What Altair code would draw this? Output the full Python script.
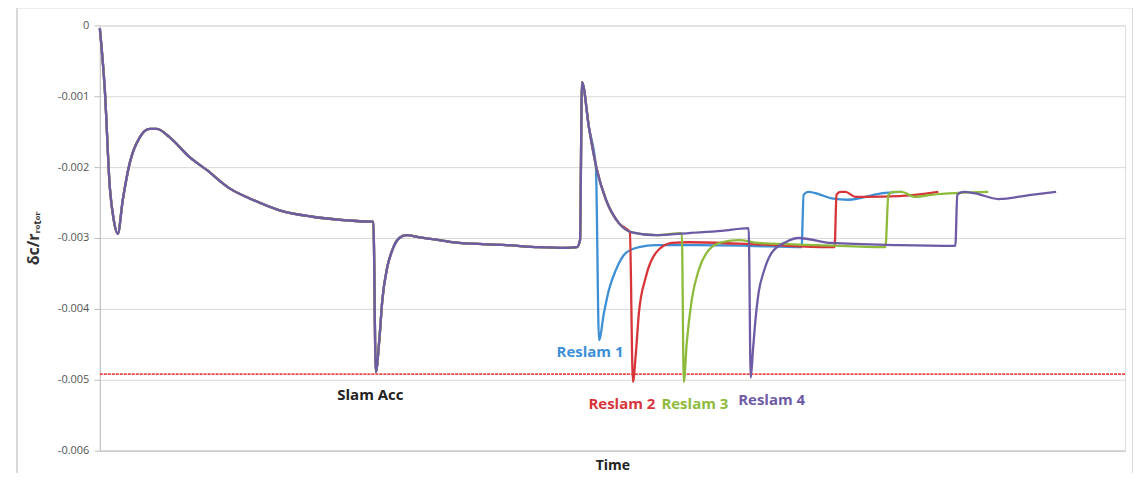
import altair as alt
import pandas as pd

# ---- data (time in arbitrary units 0..100) ----
base_t = [0.0, 0.49, 0.97, 1.36, 1.75, 2.24, 2.92, 3.89, 4.87, 5.55, 6.82, 8.76, 10.42,
          12.66, 14.90, 17.53, 20.74, 24.05, 26.58, 26.68, 26.92, 27.26, 27.56, 28.04,
          28.53, 29.21, 29.89, 31.16, 33.11, 35.05, 39.63, 42.84, 45.47, 46.54, 46.84,
          47.03, 47.71, 48.49, 49.37, 50.63, 51.90, 54.24, 57.45, 60.66, 63.29]
base_v = [-0.00004, -0.00092, -0.00228, -0.00275, -0.00294, -0.00246, -0.00194, -0.00158,
          -0.00146, -0.00146, -0.00158, -0.00186, -0.00204, -0.00230, -0.00246, -0.00261,
          -0.00270, -0.00275, -0.00277, -0.00277, -0.00489, -0.00444, -0.00387, -0.00341,
          -0.00317, -0.00300, -0.00296, -0.00299, -0.00303, -0.00307, -0.00310, -0.00313,
          -0.00314, -0.00313, -0.00303, -0.00080, -0.00144, -0.00204, -0.00246, -0.00279,
          -0.00292, -0.00296, -0.00293, -0.00290, -0.00286]

blue_t = [48.39, 48.69, 49.17, 49.66, 50.34, 51.31, 52.58, 54.24, 58.42, 63.29, 68.45,
          68.65, 69.13, 70.11, 71.37, 73.03, 76.24, 78.19]
blue_v = [-0.00201, -0.00444, -0.00406, -0.00373, -0.00345, -0.00321, -0.00313, -0.00310,
          -0.00310, -0.00311, -0.00313, -0.00239, -0.00235, -0.00238, -0.00244, -0.00246,
          -0.00237, -0.00235]

red_t = [51.70, 52.00, 52.29, 52.58, 53.26, 54.24, 55.79, 57.45, 62.32, 67.19, 71.67,
         71.86, 72.25, 72.74, 73.71, 74.68, 77.90, 81.79]
red_v = [-0.00292, -0.00503, -0.00462, -0.00406, -0.00355, -0.00321, -0.00307, -0.00306,
         -0.00308, -0.00311, -0.00313, -0.00239, -0.00235, -0.00235, -0.00242, -0.00242,
         -0.00241, -0.00235]

green_t = [56.77, 56.96, 57.25, 57.74, 58.42, 59.40, 60.66, 62.32, 64.26, 70.11, 76.63,
           76.92, 77.41, 78.19, 79.55, 81.11, 86.66]
green_v = [-0.00293, -0.00503, -0.00448, -0.00387, -0.00345, -0.00317, -0.00306, -0.00303,
           -0.00307, -0.00310, -0.00313, -0.00239, -0.00235, -0.00235, -0.00242, -0.00239,
           -0.00235]

purple_t = [63.49, 63.71, 63.97, 64.26, 64.75, 65.53, 66.89, 68.16, 71.37, 77.90, 83.45,
            83.64, 84.23, 85.39, 87.63, 90.85, 93.28]
purple_v = [-0.00497, -0.00458, -0.00413, -0.00377, -0.00348, -0.00321, -0.00306, -0.00300,
            -0.00307, -0.00310, -0.00311, -0.00239, -0.00235, -0.00237, -0.00245, -0.00239,
            -0.00235]

series_names = ["Reslam 1", "Reslam 2", "Reslam 3", "Reslam 4"]
series_colors = ["#3D8FD6", "#D8353A", "#8EBB3C", "#6E5BA6"]

limit_value = -0.00492

label_texts = ["Slam Acc", "Reslam 1", "Reslam 2", "Reslam 3", "Reslam 4"]
label_t = [26.39, 47.81, 50.92, 58.04, 65.53]
label_v = [-0.00521, -0.00461, -0.00534, -0.00534, -0.00528]
label_colors = ["#222222", "#3D8FD6", "#D8353A", "#8EBB3C", "#6E5BA6"]

y_ticks = [0, -0.001, -0.002, -0.003, -0.004, -0.005, -0.006]


def build(branch_t, own_t, own_v):
    rows = [(t, v) for t, v in zip(base_t, base_v) if t < branch_t]
    rows += list(zip(own_t, own_v))
    return pd.DataFrame(rows, columns=["t", "v"])


frames = [
    build(blue_t[0], blue_t, blue_v),
    build(red_t[0], red_t, red_v),
    build(green_t[0], green_t, green_v),
    build(purple_t[0], purple_t, purple_v),
]

xs = alt.Scale(domain=[0, 100], nice=False, zero=False)
ys = alt.Scale(domain=[-0.006, 0], nice=False, zero=False)

x_axis = alt.Axis(title="Time", labels=False, ticks=False, grid=False,
                  domainColor="#BFBFBF", titleFont="Open Sans", titleFontSize=14,
                  titleFontWeight="bold", titleColor="#222222", titlePadding=8)
y_axis = alt.Axis(title="δc/rᵣₒₜₒᵣ", values=y_ticks, grid=True, gridColor="#D9D9D9",
                  domainColor="#BFBFBF", tickColor="#BFBFBF", tickSize=6,
                  labelExpr="datum.value == 0 ? '0' : '-0.00' + toString(round(-datum.value*1000))",
                  labelFont="Open Sans", labelFontSize=11, labelColor="#555555", labelPadding=5,
                  titleFont="Open Sans", titleFontSize=16, titleFontWeight="bold",
                  titleColor="#333333", titlePadding=16)

layers = []
# light grey frame round the whole figure
frame_df = pd.DataFrame({"k": [0]})
layers.append(
    alt.Chart(frame_df).mark_rect(fill="transparent", stroke="#D9D9D9", strokeWidth=2)
    .encode(x=alt.value(-83), x2=alt.value(1035), y=alt.value(-18), y2=alt.value(520))
)
# red dotted limit line
limit_df = pd.DataFrame({"v": [limit_value]})
layers.append(
    alt.Chart(limit_df).mark_rule(color="#F04848", strokeWidth=1.6, strokeDash=[3, 1])
    .encode(y=alt.Y("v:Q", scale=ys, axis=y_axis))
)
for df, name, col in zip(frames, series_names, series_colors):
    layers.append(
        alt.Chart(df).mark_line(color=col, strokeWidth=2.3, interpolate="monotone")
        .encode(x=alt.X("t:Q", scale=xs, axis=x_axis),
                y=alt.Y("v:Q", scale=ys, axis=y_axis),
                order="t:Q")
    )

lab_df = pd.DataFrame({"t": label_t, "v": label_v, "txt": label_texts, "c": label_colors})
layers.append(
    alt.Chart(lab_df).mark_text(font="Open Sans", fontSize=15, fontWeight="bold")
    .encode(x=alt.X("t:Q", scale=xs, axis=x_axis), y=alt.Y("v:Q", scale=ys, axis=y_axis),
            text="txt:N", color=alt.Color("c:N", scale=None))
)

chart = alt.layer(*layers).properties(
    width=1027, height=426,
    autosize=alt.AutoSizeParams(type="none"),
    padding={"left": 92, "top": 17, "right": 8, "bottom": 22},
).configure_view(stroke=None).configure(background="white")

chart.save("out.html", embed_options={"renderer": "svg", "actions": False})
